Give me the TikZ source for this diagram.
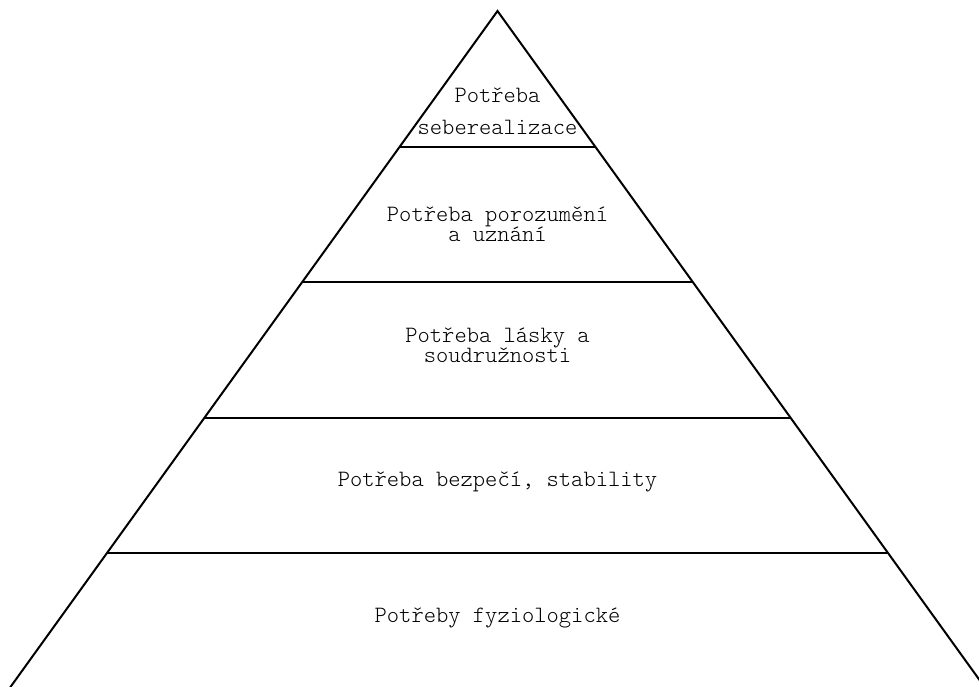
\documentclass[tikz,border=0pt]{standalone}
\usepackage{fontspec}
\setmonofont{Latin Modern Mono Light}
\usetikzlibrary{calc}
\tikzset{
  edge/.style={draw=black, line width=2pt, line cap=butt},
  lbl/.style={font=\ttfamily\fontsize{23.4}{20.5}\selectfont, text=black, inner sep=0pt, anchor=base, align=center}
}
\begin{document}
\begin{tikzpicture}[x=1pt,y=-1pt]
\useasboundingbox (0,0) rectangle (979,686);
\clip (0,0) rectangle (979,686);
\coordinate (A) at (497.5,11);
\coordinate (BL) at (9,689);
\coordinate (BR) at (986,689);
\draw[edge] (BL) -- (A) -- (BR);
\foreach \t/\n in {0.2/a,0.4/b,0.6/c,0.8/d}{
  \coordinate (L\n) at ($(A)!\t!(BL)$);
  \coordinate (R\n) at ($(A)!\t!(BR)$);
  \draw[edge] (L\n) -- (R\n);
}
\node[lbl] (t1) at (497.5,134) {Potřeba\\[11.5pt]seberealizace};
\node[lbl] (t2) at (497.5,241.5) {Potřeba porozumění\\a uznání};
\node[lbl] (t3) at (497.5,362.5) {Potřeba lásky a\\soudružnosti};
\node[lbl] (t4) at (497.5,486) {Potřeba bezpečí, stability};
\node[lbl] (t5) at (497.5,622) {Potřeby fyziologické};
\end{tikzpicture}
\end{document}
